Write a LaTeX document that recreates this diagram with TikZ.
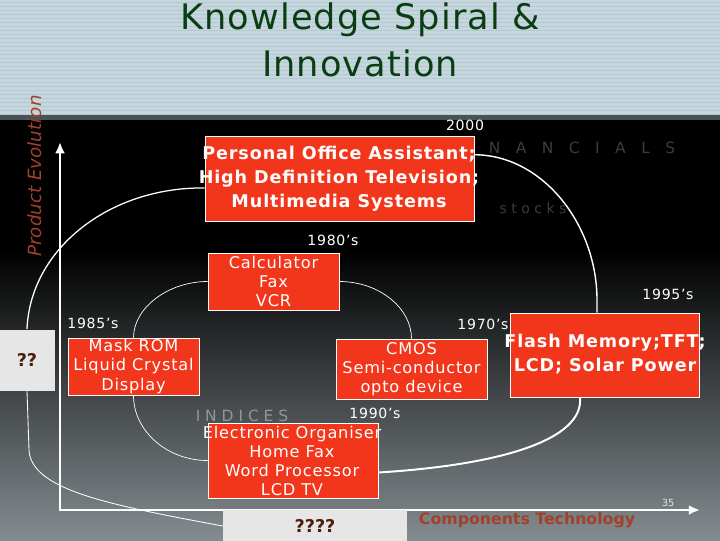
\documentclass[tikz,border=0pt]{standalone}
\usepackage{fontspec}
\setmainfont{DejaVu Sans}
\usetikzlibrary{arrows.meta}

\definecolor{boxred}{HTML}{F2361C}
\definecolor{qgrey}{HTML}{E6E6E6}
\definecolor{qbrown}{HTML}{4A1E0A}
\definecolor{labelbrown}{HTML}{A3402C}
\definecolor{titlegreen}{HTML}{0B3D12}
\definecolor{band}{HTML}{C6D6DF}
\definecolor{bandstripe}{HTML}{B6C9D3}
\definecolor{bandline}{HTML}{4A5258}
\definecolor{bggrey}{HTML}{848C90}
\definecolor{faint}{HTML}{3A3D40}
\definecolor{faintlight}{HTML}{8E979C}

\begin{document}
\begin{tikzpicture}[x=0.025cm,y=-0.025cm,
    redbox/.style 2 args={draw=white, line width=0.5pt, fill=boxred,
      minimum width=#1*0.025cm, minimum height=#2*0.025cm, inner sep=0pt},
    greybox/.style 2 args={fill=qgrey, text=qbrown,
      minimum width=#1*0.025cm, minimum height=#2*0.025cm, inner sep=0pt,
      font=\bfseries\fontsize{12.5}{14}\selectfont},
    boxtext/.style={text=white, align=center, inner sep=0pt,
      font=\fontsize{11.5}{13.6}\selectfont\addfontfeature{LetterSpace=5}},
    bigtext/.style={text=white, align=center, inner sep=0pt,
      font=\bfseries\fontsize{12.5}{17}\selectfont\addfontfeature{LetterSpace=5}},
    year/.style={text=white, inner sep=0pt,
      font=\fontsize{10}{11}\selectfont\addfontfeature{LetterSpace=5}},
    spiral/.style={white, line width=0.5pt},
    axis/.style={white, line width=2pt, {Latex[length=8pt,width=7pt]}-{Latex[length=8pt,width=7pt]}}]

  \useasboundingbox (0,0) rectangle (720,540);

  \fill[band] (0,0) rectangle (720,117);
  \foreach \y in {2,6,...,114}
    \draw[bandstripe, line width=0.6pt] (0,\y) -- (720,\y);
  \fill[black] (0,117) rectangle (720,250);
  \shade[top color=black, bottom color=bggrey] (0,250) rectangle (720,540);
  \fill[bandline] (0,115) rectangle (720,120);

  \node[text=titlegreen, align=center,
    font=\fontsize{25}{33}\selectfont\addfontfeature{LetterSpace=3}]
    (title) at (360,40) {Knowledge Spiral \&\\Innovation};

  \node[text=faint, font=\fontsize{11}{13}\selectfont] (nancials) at (582,148)
    {N\quad A\quad N\quad C\quad I\quad A\quad L\quad S};
  \node[text=faint, font=\fontsize{10}{12}\selectfont] (stocks) at (533,208) {s t o c k s};
  \node[text=faintlight, font=\fontsize{11}{13}\selectfont] (indices) at (242,416) {I N D I C E S};

  \node[rotate=90, text=labelbrown, font=\itshape\fontsize{13}{14}\selectfont]
    (yaxis) at (35,176) {Product Evolution};
  \node[text=labelbrown, font=\bfseries\fontsize{11.2}{13}\selectfont]
    (xaxis) at (527,520) {Components Technology};
  \node[text=white!80!gray, font=\fontsize{7}{8}\selectfont] (page) at (668,503) {35};

  \coordinate (origin) at (60,510);
  \coordinate (ytip) at (60,142);
  \coordinate (xtip) at (700,510);
  \draw[axis] (ytip) -- (origin) -- (xtip);

  \node[greybox={55}{61}] (qq) at (27,360) {??};
  \node[greybox={184}{32}] (qqqq) at (315,526) {????};

  \node[redbox={269}{85}] (office) at (339.5,178.5) {};
  \node[redbox={131}{57}] (calc) at (273.5,281.5) {};
  \node[redbox={131}{57}] (mask) at (133.5,366.5) {};
  \node[redbox={151}{60}] (cmos) at (411.5,369) {};
  \node[redbox={189}{84}] (flash) at (604.5,355) {};
  \node[redbox={170}{75}] (organiser) at (293,460.5) {};

  \draw[spiral] (calc.east) .. controls (379,281.5) and (411.5,308) .. (cmos.north);
  \draw[spiral] (calc.west) .. controls (168,281.5) and (133.5,308) .. (mask.north);
  \draw[spiral] (mask.south) .. controls (133.5,431) and (167,460.5) .. (organiser.west);
  \draw[white, line width=1.4pt] (organiser.-8) .. controls (500,465) and (584,440) .. (flash.-120);
  \draw[white, line width=1pt] (flash.100) -- (597,300) .. controls (597,225) and (543,155) .. (office.10);
  \draw[white, line width=0.9pt] (office.184) .. controls (108,187) and (30,250) .. (qq.north);
  \draw[white, line width=0.6pt] (qq.south) -- (29,450) .. controls (31,490) and (110,505) .. (qqqq.west);

  \node[bigtext] (officetxt) at (339,179)
    {Personal Office Assistant;\\High Definition Television;\\Multimedia Systems};
  \node[boxtext] (calctxt) at (273.5,281.5) {Calculator\\Fax\\VCR};
  \node[boxtext] (masktxt) at (133.5,366.5) {Mask ROM\\Liquid Crystal\\Display};
  \node[boxtext] (cmostxt) at (411.5,369.5) {CMOS\\Semi-conductor\\opto device};
  \node[bigtext] (flashtxt) at (605,354) {Flash Memory;TFT;\\LCD; Solar Power};
  \node[boxtext] (organisertxt) at (292,461)
    {Electronic Organiser\\Home Fax\\Word Processor\\LCD TV};

  \node[year] (y2000) at (465,125) {2000};
  \node[year] (y1980) at (333,240) {1980’s};
  \node[year] (y1995) at (668,294) {1995’s};
  \node[year] (y1985) at (93,323) {1985’s};
  \node[year] (y1970) at (483,324) {1970’s};
  \node[year] (y1990) at (375,413) {1990’s};
\end{tikzpicture}
\end{document}
